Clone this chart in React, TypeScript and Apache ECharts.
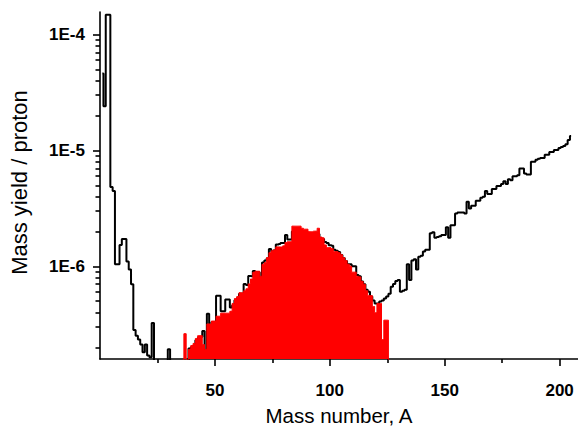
import { useEffect, useRef } from 'react';
import * as echarts from 'echarts';

// Mass number of the first value in each series
const blackStartA = 1;
const redStartA = 36;

// Black step curve: mass yield per proton, A = 1 ... 205 (1.5e-7 = below the plotted range)
const blackYield: number[] = [
  4.6e-5, 2.4e-5, 1.48e-4, 1.48e-4, 4.83e-6, 4.47e-6, 1.04e-6, 1.04e-6, 1.53e-6, 1.72e-6,
  1.72e-6, 1.1e-6, 9.4e-7, 7.0e-7, 2.82e-7, 2.52e-7, 2.33e-7, 2.11e-7, 1.81e-7, 2.11e-7,
  1.7e-7, 1.64e-7, 3.24e-7, 1.5e-7, 1.5e-7, 1.5e-7, 1.5e-7, 1.5e-7, 1.5e-7, 1.92e-7,
  1.5e-7, 1.5e-7, 1.5e-7, 1.5e-7, 1.5e-7, 1.5e-7, 1.5e-7, 1.5e-7, 1.95e-7, 2.0e-7,
  2.05e-7, 2.3e-7, 2.4e-7, 2.45e-7, 2.77e-7, 1.85e-7, 3.9e-7, 3.1e-7, 3.3e-7, 3.3e-7,
  5.58e-7, 5.58e-7, 4.1e-7, 4.1e-7, 5.17e-7, 5.17e-7, 4.42e-7, 4.6e-7, 5.1e-7, 5.3e-7,
  5.8e-7, 5.8e-7, 7.05e-7, 6.9e-7, 8.23e-7, 8.2e-7, 9.1e-7, 8.9e-7, 8.9e-7, 7.9e-7,
  1.08e-6, 1.12e-6, 1.17e-6, 1.41e-6, 1.34e-6, 1.37e-6, 1.54e-6, 1.56e-6, 1.59e-6, 1.59e-6,
  1.86e-6, 1.7e-6, 1.7e-6, 2.0e-6, 2.1e-6, 2.1e-6, 2.05e-6, 2.0e-6, 2.0e-6, 1.95e-6,
  1.9e-6, 1.9e-6, 1.9e-6, 1.95e-6, 1.9e-6, 1.75e-6, 1.72e-6, 1.62e-6, 1.59e-6, 1.52e-6,
  1.5e-6, 1.39e-6, 1.36e-6, 1.33e-6, 1.25e-6, 1.18e-6, 1.11e-6, 1.04e-6, 1.04e-6, 1.0e-6,
  1.0e-6, 8.4e-7, 8.2e-7, 7.4e-7, 7.0e-7, 6.27e-7, 6.03e-7, 5.48e-7, 5.06e-7, 4.78e-7,
  4.78e-7, 4.97e-7, 5.06e-7, 5.27e-7, 5.48e-7, 5.8e-7, 6.65e-7, 7.05e-7, 7.47e-7, 7.62e-7,
  6.03e-7, 6.15e-7, 6.27e-7, 1.04e-6, 7.62e-7, 1.12e-6, 1.15e-6, 9.4e-7, 1.21e-6, 1.23e-6,
  1.34e-6, 1.39e-6, 1.39e-6, 1.93e-6, 1.97e-6, 1.76e-6, 1.79e-6, 1.82e-6, 1.86e-6, 1.86e-6,
  2.17e-6, 1.76e-6, 2.26e-6, 2.26e-6, 2.86e-6, 2.91e-6, 2.91e-6, 2.91e-6, 2.86e-6, 3.6e-6,
  3.15e-6, 3.33e-6, 3.33e-6, 3.68e-6, 3.68e-6, 3.9e-6, 3.98e-6, 4.47e-6, 4.21e-6, 4.21e-6,
  4.64e-6, 4.64e-6, 4.93e-6, 4.93e-6, 5.12e-6, 5.42e-6, 5.12e-6, 5.64e-6, 5.53e-6, 5.98e-6,
  5.98e-6, 6.1e-6, 6.97e-6, 6.97e-6, 6.33e-6, 6.2e-6, 6.2e-6, 7.98e-6, 7.98e-6, 8.3e-6,
  8.45e-6, 8.6e-6, 8.6e-6, 9.15e-6, 9.15e-6, 9.7e-6, 9.7e-6, 1.01e-5, 1.01e-5, 1.05e-5,
  1.07e-5, 1.09e-5, 1.13e-5, 1.23e-5, 1.33e-5,
];

// Red filled histogram: mass yield per proton, A = 36 ... 126
const redYield: number[] = [
  1.5e-7, 2.62e-7, 1.5e-7, 1.92e-7, 2.07e-7,
  2.16e-7, 2.38e-7, 2.52e-7, 2.52e-7, 2.11e-7, 1.92e-7, 3.18e-7, 3.18e-7, 3.37e-7, 3.37e-7,
  3.71e-7, 3.71e-7, 3.94e-7, 3.94e-7, 3.94e-7, 3.94e-7, 4.09e-7, 4.78e-7, 5.27e-7, 5.48e-7,
  5.92e-7, 5.92e-7, 6.15e-7, 6.39e-7, 7.05e-7, 7.77e-7, 8.9e-7, 9.07e-7, 9.07e-7, 8.2e-7,
  1.04e-6, 1.08e-6, 1.19e-6, 1.31e-6, 1.36e-6, 1.39e-6, 1.47e-6, 1.47e-6, 1.47e-6, 1.5e-6,
  1.6e-6, 1.63e-6, 1.63e-6, 2.22e-6, 2.22e-6, 2.22e-6, 2.22e-6, 2.13e-6, 2.09e-6, 2.09e-6,
  1.99e-6, 1.99e-6, 2.01e-6, 2.01e-6, 2.13e-6, 1.79e-6, 1.76e-6, 1.53e-6, 1.45e-6, 1.45e-6,
  1.42e-6, 1.34e-6, 1.34e-6, 1.31e-6, 1.26e-6, 1.19e-6, 1.12e-6, 1.04e-6, 1.0e-6, 8.9e-7,
  8.9e-7, 8.2e-7, 8.1e-7, 7.4e-7, 7.0e-7, 6.15e-7, 5.58e-7, 5.58e-7, 4.5e-7, 3.98e-7,
  4.78e-7, 4.78e-7, 2.33e-7, 3.43e-7, 3.43e-7, 1.5e-7,
];

// Axes
const xMin = 0;
const xMax = 208;
const yMin = 1.585e-7;
const yMax = 1.563e-4;
const xMajorTicks = [50, 100, 150, 200];
const xMinorTicks = [25, 75, 125, 175];
const yMajorTicks = [1e-6, 1e-5, 1e-4];
const yMinorTicks = [
  2e-7, 3e-7, 4e-7, 5e-7, 6e-7, 7e-7, 8e-7, 9e-7,
  2e-6, 3e-6, 4e-6, 5e-6, 6e-6, 7e-6, 8e-6, 9e-6,
  2e-5, 3e-5, 4e-5, 5e-5, 6e-5, 7e-5, 8e-5, 9e-5,
];

export default function App() {
  const ref = useRef<HTMLDivElement>(null);

  useEffect(() => {
    if (!ref.current) return;
    const chart = echarts.init(ref.current, null, { renderer: 'svg' });
    const font = "'Liberation Sans', Arial, sans-serif";
    const lineStyle = { color: '#000', width: 1.6 };
    const blackData = blackYield.map((v, i) => [blackStartA + i, v]);
    const redData = redYield.map((v, i) => [redStartA + i, v]);

    chart.setOption({
      animation: false,
      backgroundColor: '#fff',
      grid: { left: 98, top: 12, width: 480, height: 355 },
      xAxis: [
        {
          type: 'value',
          min: xMin,
          max: xMax,
          position: 'bottom',
          axisLine: { show: true, onZero: false, lineStyle },
          axisTick: { show: true, customValues: xMajorTicks, length: 7, lineStyle },
          axisLabel: {
            customValues: xMajorTicks,
            margin: 23,
            fontSize: 17,
            fontWeight: 'bold',
            color: '#000',
            fontFamily: font,
          },
          splitLine: { show: false },
          name: 'Mass number, A',
          nameLocation: 'middle',
          nameGap: 46,
          nameTextStyle: { fontSize: 20.5, color: '#000', fontFamily: font },
        },
        {
          type: 'value',
          min: xMin,
          max: xMax,
          position: 'bottom',
          axisLine: { show: false, onZero: false },
          axisTick: { show: true, customValues: xMinorTicks, length: 4, lineStyle },
          axisLabel: { show: false },
          splitLine: { show: false },
        },
      ],
      yAxis: [
        {
          type: 'log',
          logBase: 10,
          min: yMin,
          max: yMax,
          position: 'left',
          axisLine: { show: true, onZero: false, lineStyle },
          axisTick: { show: true, customValues: yMajorTicks, length: 7, lineStyle },
          axisLabel: {
            customValues: yMajorTicks,
            margin: 15,
            fontSize: 17,
            fontWeight: 'bold',
            color: '#000',
            fontFamily: font,
            formatter: (v: number) => '1E' + Math.round(Math.log10(v)),
          },
          splitLine: { show: false },
          name: 'Mass yield / proton',
          nameLocation: 'middle',
          nameGap: 70,
          nameTextStyle: {
            fontSize: 22,
            color: '#000',
            fontFamily: font,
            padding: [0, 0, 0, 6],
          },
        },
        {
          type: 'log',
          logBase: 10,
          min: yMin,
          max: yMax,
          position: 'left',
          axisLine: { show: false, onZero: false },
          axisTick: { show: true, customValues: yMinorTicks, length: 4.5, lineStyle },
          axisLabel: { show: false },
          splitLine: { show: false },
        },
      ],
      series: [
        {
          type: 'line',
          step: 'middle',
          data: blackData,
          symbol: 'none',
          clip: true,
          lineStyle: { color: '#000', width: 2 },
          itemStyle: { color: '#000' },
          z: 2,
        },
        {
          type: 'line',
          step: 'middle',
          data: redData,
          symbol: 'none',
          clip: true,
          lineStyle: { color: '#ff0000', width: 1 },
          itemStyle: { color: '#ff0000' },
          areaStyle: { color: '#ff0000', opacity: 1, origin: 'start' },
          z: 3,
        },
      ],
    });

    return () => chart.dispose();
  }, []);

  return (
    <div
      ref={ref}
      style={{ position: 'absolute', left: 0, top: 0, width: 578, height: 431 }}
    />
  );
}
